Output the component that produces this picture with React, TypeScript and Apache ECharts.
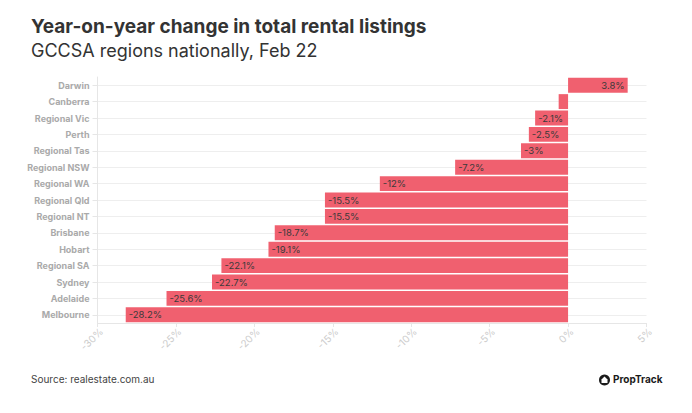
import React, { useEffect, useRef } from "react";
import * as echarts from "echarts";

const regions = [
  "Darwin",
  "Canberra",
  "Regional Vic",
  "Perth",
  "Regional Tas",
  "Regional NSW",
  "Regional WA",
  "Regional Qld",
  "Regional NT",
  "Brisbane",
  "Hobart",
  "Regional SA",
  "Sydney",
  "Adelaide",
  "Melbourne",
];
const changes = [3.8, -0.6, -2.1, -2.5, -3, -7.2, -12, -15.5, -15.5, -18.7, -19.1, -22.1, -22.7, -25.6, -28.2];
const xMin = -30;
const xMax = 5;
const xInterval = 5;

const titleText = "Year-on-year change in total rental listings";
const subtitleText = "GCCSA regions nationally, Feb 22";
const sourceText = "Source: realestate.com.au";

const FONT = "Inter, 'Noto Sans', sans-serif";
const BAR = "#F0606F";

export default function App() {
  const ref = useRef<HTMLDivElement>(null);
  useEffect(() => {
    if (!ref.current) return;
    const chart = echarts.init(ref.current, undefined, { renderer: "svg" });
    const data = changes.map((v) => ({
      value: v,
      label: {
        show: Math.abs(v) >= 1,
        position: v >= 0 ? "insideRight" : "insideLeft",
      },
    }));
    chart.setOption({
      animation: false,
      backgroundColor: "#ffffff",
      textStyle: { fontFamily: FONT },
      graphic: [
        {
          type: "text",
          left: 31,
          top: 17,
          style: { text: titleText, font: `bold 19px ${FONT}`, fill: "#333333" },
        },
        {
          type: "text",
          left: 31,
          top: 41,
          style: { text: subtitleText, font: `18px ${FONT}`, fill: "#333333" },
        },
        {
          type: "text",
          left: 31,
          top: 374,
          style: { text: sourceText, font: `10px ${FONT}`, fill: "#444444" },
        },
        {
          type: "circle",
          shape: { cx: 604.5, cy: 380, r: 5.5 },
          style: { fill: "#1a1a1a" },
        },
        {
          type: "polygon",
          shape: {
            points: [
              [604.5, 376.5],
              [607.5, 379.5],
              [607.5, 383],
              [601.5, 383],
              [601.5, 379.5],
            ],
          },
          style: { fill: "#ffffff" },
        },
        {
          type: "text",
          left: 613,
          top: 374,
          style: { text: "PropTrack", font: `bold 10px ${FONT}`, fill: "#1a1a1a" },
        },
      ],
      grid: { left: 97.5, right: 45.5, top: 77, bottom: 90 },
      xAxis: {
        type: "value",
        min: xMin,
        max: xMax,
        interval: xInterval,
        axisLine: { show: true, lineStyle: { color: "#e6e6e6" } },
        axisTick: { show: true, length: 4, lineStyle: { color: "#e6e6e6" } },
        splitLine: { show: false },
        axisLabel: {
          rotate: 45,
          color: "#cccccc",
          fontSize: 10,
          fontFamily: FONT,
          margin: 3,
          verticalAlign: "top",
          formatter: (v: number) => `${v}%`,
        },
      },
      yAxis: {
        type: "category",
        data: regions,
        inverse: true,
        axisLine: { show: true, onZero: false, lineStyle: { color: "#e6e6e6" } },
        axisTick: { show: true, alignWithLabel: true, length: 5, lineStyle: { color: "#e6e6e6" } },
        splitLine: { show: true, alignWithLabel: true, lineStyle: { color: "#eeeeee" } },
        axisLabel: {
          color: "#aaaaaa",
          fontSize: 9,
          fontWeight: "bold",
          fontFamily: FONT,
          margin: 8,
        },
      },
      series: [
        {
          type: "bar",
          data,
          barCategoryGap: "9%",
          itemStyle: { color: BAR },
          label: {
            show: true,
            color: "#3a3a3a",
            fontSize: 9.5,
            fontFamily: FONT,
            distance: 3,
            formatter: (p: any) => `${p.value}%`,
          },
        },
      ],
    });
    return () => chart.dispose();
  }, []);
  return (
    <div
      ref={ref}
      style={{ position: "fixed", left: 0, top: 0, width: 692, height: 413, background: "#fff" }}
    />
  );
}
